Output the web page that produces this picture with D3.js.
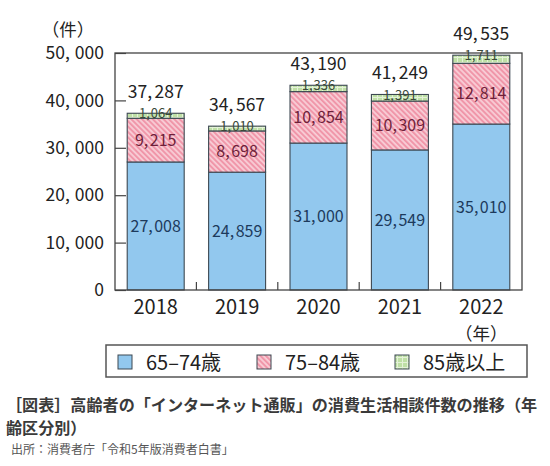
<!DOCTYPE html>
<html>
<head>
<meta charset="utf-8">
<script src="https://cdn.jsdelivr.net/npm/d3@7"></script>
<style>
  html, body { margin: 0; padding: 0; background: #fff; }
  svg { display: block; font-family: "Noto Sans CJK JP", "Noto Sans", sans-serif; }
</style>
</head>
<body>
<svg id="chart" width="550" height="466"></svg>
<script>
// ---- data ----
const years = ["2018", "2019", "2020", "2021", "2022"];
const age65_74 = [27008, 24859, 31000, 29549, 35010];
const age75_84 = [9215, 8698, 10854, 10309, 12814];
const age85plus = [1064, 1010, 1336, 1391, 1711];
const totals = [37287, 34567, 43190, 41249, 49535];
const yTicks = [0, 10000, 20000, 30000, 40000, 50000];
const seriesNames = ["65–74歳", "75–84歳", "85歳以上"];
const yAxisTitle = "（件）";
const xAxisTitle = "（年）";
const captionLines = ["［図表］高齢者の「インターネット通販」の消費生活相談件数の推移（年", "齢区分別）"];
const sourceText = "出所：消費者庁「令和5年版消費者白書」";

// ---- setup ----
(function () {
const svg = d3.select("#chart");
const pLeft = 115, pRight = 522, pTop = 53, pBottom = 290;
const keys = ["a", "b", "c"];
const table = years.map((yr, i) => ({ year: yr, a: age65_74[i], b: age75_84[i], c: age85plus[i], total: totals[i] }));
const stacked = d3.stack().keys(keys)(table);

const x = d3.scaleBand().domain(years).range([pLeft, pRight]).paddingInner(0.3).paddingOuter(0.15);
const y = d3.scaleLinear().domain([0, 50000]).range([pBottom, pTop]);
const fmt = d3.format(",");

// patterns
const defs = svg.append("defs");
const pink = defs.append("pattern").attr("id", "pinkHatch").attr("patternUnits", "userSpaceOnUse")
  .attr("width", 3.8).attr("height", 3.8).attr("patternTransform", "rotate(-45)");
pink.append("rect").attr("width", 3.8).attr("height", 3.8).attr("fill", "#f8cdd6");
pink.append("rect").attr("width", 2.0).attr("height", 3.8).attr("fill", "#f096a9");

const green = defs.append("pattern").attr("id", "greenGrid").attr("patternUnits", "userSpaceOnUse")
  .attr("width", 5).attr("height", 5);
green.append("rect").attr("width", 5).attr("height", 5).attr("fill", "#bfe0a6");
green.append("rect").attr("x", 0).attr("y", 2).attr("width", 5).attr("height", 1).attr("fill", "#e4f2d8");
green.append("rect").attr("x", 2).attr("y", 0).attr("width", 1).attr("height", 5).attr("fill", "#e4f2d8");

const fills = { a: "#92c8ee", b: "url(#pinkHatch)", c: "url(#greenGrid)" };
const labelColors = { a: "#1d3a5c", b: "#6e1f3a", c: "#3b4a3a" };

function commaText(sel, v, extra) {
  const s = fmt(v);
  const i = s.indexOf(",");
  sel.text(null);
  if (i < 0) { sel.text(s); return; }
  sel.append("tspan").text(s.slice(0, i));
  sel.append("tspan").text(",").style("letter-spacing", extra + "px");
  sel.append("tspan").text(s.slice(i + 1));
}

// y axis (inward ticks)
const yAxis = d3.axisLeft(y).tickValues(yTicks).tickSizeInner(-11).tickSizeOuter(0).tickPadding(11);
const gy = svg.append("g").attr("transform", `translate(${pLeft},0)`).call(yAxis);
gy.select(".domain").remove();
gy.selectAll(".tick line").attr("stroke", "#444").attr("stroke-width", 1.2);
gy.selectAll(".tick text").attr("font-size", 17.5).attr("fill", "#222")
  .attr("font-family", "Noto Sans CJK JP")
  .each(function (d) { commaText(d3.select(this), d, 5); });

// bars
const layers = svg.append("g").selectAll("g").data(stacked).join("g");
layers.selectAll("rect").data(d => d.map(s => ({ s, key: d.key })))
  .join("rect")
  .attr("x", d => x(d.s.data.year))
  .attr("width", x.bandwidth())
  .attr("y", d => y(d.s[1]))
  .attr("height", d => y(d.s[0]) - y(d.s[1]))
  .attr("fill", d => fills[d.key])
  .attr("stroke", "#3d4852")
  .attr("stroke-width", 1.1);

// frame
svg.append("rect").attr("x", pLeft).attr("y", pTop).attr("width", pRight - pLeft).attr("height", pBottom - pTop)
  .attr("fill", "none").attr("stroke", "#444").attr("stroke-width", 1.3);

// x axis labels
const xAxis = d3.axisBottom(x).tickSize(0).tickPadding(10);
const gx = svg.append("g").attr("transform", `translate(0,${pBottom})`).call(xAxis);
gx.select(".domain").remove();
gx.selectAll(".tick text").attr("font-size", 20).attr("fill", "#222").attr("font-family", "Noto Sans CJK JP");

// category boundary ticks
const step = x.step();
svg.append("g").selectAll("line").data(years.slice(0, -1)).join("line")
  .attr("x1", d => x(d) + x.bandwidth() + step * 0.15)
  .attr("x2", d => x(d) + x.bandwidth() + step * 0.15)
  .attr("y1", pBottom).attr("y2", pBottom - 8)
  .attr("stroke", "#444").attr("stroke-width", 1.2);

// segment labels
const seg = svg.append("g").attr("text-anchor", "middle");
stacked.forEach(layer => {
  layer.forEach(s => {
    const cx = x(s.data.year) + x.bandwidth() / 2;
    const t = seg.append("text").attr("x", cx).attr("fill", labelColors[layer.key]);
    if (layer.key === "c") {
      t.attr("y", y(s[1]) + 0.5).attr("dy", "0.36em").attr("font-size", 13);
    } else {
      t.attr("y", (y(s[0]) + y(s[1])) / 2).attr("dy", "0.36em").attr("font-size", 16);
    }
    commaText(t, s[1] - s[0], layer.key === "c" ? 1 : 1.5);
  });
});

// total labels
svg.append("g").attr("text-anchor", "middle").selectAll("text").data(table).join("text")
  .attr("x", d => x(d.year) + x.bandwidth() / 2)
  .attr("y", d => y(d.total) - 15)
  .attr("font-size", 17.5).attr("fill", "#222")
  .each(function (d) { commaText(d3.select(this), d.total, 2.5); });

// axis titles
svg.append("text").attr("x", 68).attr("y", 36).attr("text-anchor", "middle")
  .attr("font-size", 17.5).attr("fill", "#222").text(yAxisTitle);
svg.append("text").attr("x", x(years[years.length - 1]) + x.bandwidth() / 2).attr("y", 340).attr("text-anchor", "middle")
  .attr("font-size", 17.5).attr("fill", "#222").text(xAxisTitle);

// legend
const lg = svg.append("g");
lg.append("rect").attr("x", 106).attr("y", 345).attr("width", 421).attr("height", 32)
  .attr("fill", "#fff").attr("stroke", "#555").attr("stroke-width", 1.5);
const legendFills = [fills.a, fills.b, fills.c];
const sqX = [118, 257, 395];
seriesNames.forEach((name, i) => {
  lg.append("rect").attr("x", sqX[i]).attr("y", 355).attr("width", 14).attr("height", 14)
    .attr("fill", legendFills[i]).attr("stroke", "#3d4852").attr("stroke-width", 1);
  lg.append("text").attr("x", sqX[i] + 28).attr("y", 369.5).attr("font-size", 20).attr("fill", "#222").text(name);
});

// caption
svg.append("g").selectAll("text").data(captionLines).join("text")
  .attr("x", 6).attr("y", (d, i) => 411 + i * 23)
  .attr("font-size", 16.1).attr("font-weight", "bold").attr("fill", "#3a3a3a").text(d => d);
svg.append("text").attr("x", 11).attr("y", 454).attr("font-size", 12).attr("fill", "#555").text(sourceText);
})();
</script>
</body>
</html>
